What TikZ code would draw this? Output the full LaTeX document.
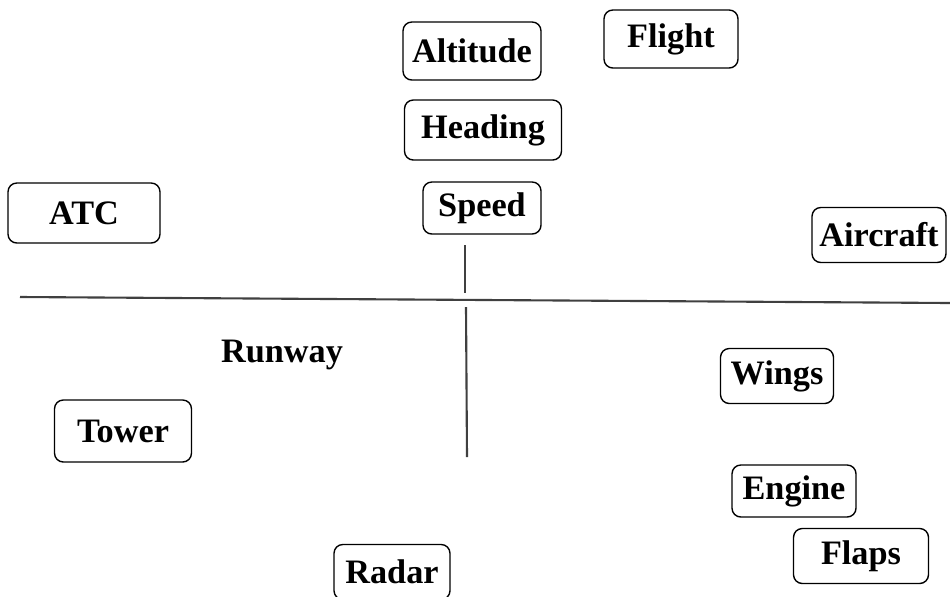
\documentclass[tikz,border=0pt]{standalone}
\usepackage{fontspec}
\setmainfont{Liberation Serif}
\usepackage{tikz}
\usetikzlibrary{arrows,shapes}
\tikzstyle{term}=[draw,thick,rounded corners=5pt,inner sep=0pt,font=\fontsize{19.5}{21}\selectfont\bfseries]
\tikzstyle{rule} = [draw,black!75,line width=1.2pt,-]

\begin{document}
\begin{tikzpicture}[x=0.02cm,y=-0.02cm]
    \useasboundingbox (0,0) rectangle (950,596);
    % First we draw the terms
    \foreach \pos/\name/\bw/\bh in {{(472,51)/Altitude/2.76/1.16}, {(671,39)/Flight/2.68/1.16},
        {(483,130)/Heading/3.14/1.2}, {(482,208)/Speed/2.36/1.04}, {(84,213)/ATC/3.04/1.2},
        {(879,235)/Aircraft/2.68/1.1}, {(777,376)/Wings/2.26/1.1}, {(794,491)/Engine/2.48/1.04},
        {(861,556)/Flaps/2.7/1.1}, {(123,431)/Tower/2.74/1.24}, {(392,572)/Radar/2.32/1.1}}
        \node[term,minimum width=\bw cm,minimum height=\bh cm] (\name) at \pos {\name};
    \node[font=\fontsize{19.5}{21}\selectfont\bfseries] (Runway) at (282,355) {Runway};
    % Split the plane with two rules
    \coordinate (west) at (20,297);
    \coordinate (east) at (950,303);
    \coordinate (top) at (465,245);
    \coordinate (gap) at (465,293);
    \coordinate (under) at (466,307);
    \coordinate (bottom) at (467,457);
    \path[rule] (west) -- (east);
    \path[rule] (top) -- (gap);
    \path[rule] (under) -- (bottom);
\end{tikzpicture}
\end{document}
